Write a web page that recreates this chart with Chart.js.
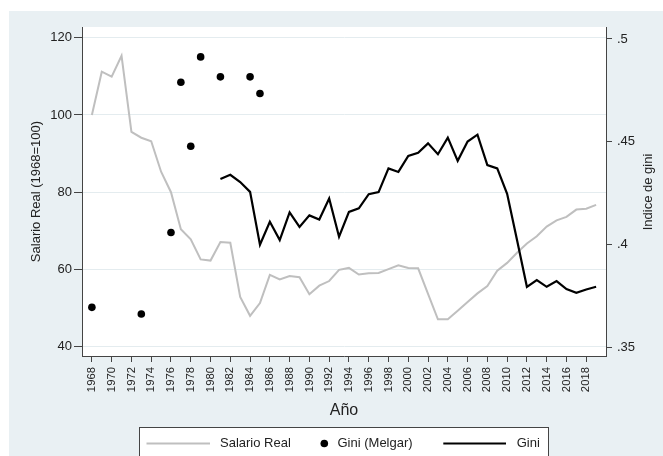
<!DOCTYPE html>
<html>
  <head>
    <meta charset="UTF-8" />
    <title>Salario real y Gini</title>
    <script src="https://cdn.jsdelivr.net/npm/chart.js"></script>
    <style>
      html,
      body {
        margin: 0;
        padding: 0;
        background: #fff;
        overflow: hidden;
      }
      canvas {
        display: block;
      }
    </style>
  </head>
  <body>
    <canvas id="giniChart" width="663" height="456"></canvas>
  </body>
  <script>
    // years for the salary series
    const salarioYears = [
      1968, 1969, 1970, 1971, 1972, 1973, 1974, 1975, 1976, 1977, 1978, 1979,
      1980, 1981, 1982, 1983, 1984, 1985, 1986, 1987, 1988, 1989, 1990, 1991,
      1992, 1993, 1994, 1995, 1996, 1997, 1998, 1999, 2000, 2001, 2002, 2003,
      2004, 2005, 2006, 2007, 2008, 2009, 2010, 2011, 2012, 2013, 2014, 2015,
      2016, 2017, 2018, 2019,
    ];
    const salarioReal = [
      100, 111.2, 109.9, 115.3, 95.6, 94.1, 93.2, 85.3, 80.0, 70.4, 67.8, 62.6,
      62.3, 67.1, 66.9, 52.9, 48.0, 51.3, 58.6, 57.4, 58.3, 58.0, 53.6, 55.8,
      57.0, 59.9, 60.4, 58.7, 59.0, 59.1, 60.1, 61.1, 60.4, 60.3, 53.7, 47.1,
      47.1, 49.3, 51.6, 53.8, 55.7, 59.7, 61.7, 64.3, 66.7, 68.6, 71.1, 72.7,
      73.6, 75.5, 75.7, 76.7,
    ];

    // Gini (Melgar) - sparse points
    const melgarYears = [1968, 1973, 1976, 1977, 1978, 1979, 1981, 1984, 1985];
    const giniMelgar = [0.3696, 0.3664, 0.406, 0.479, 0.4479, 0.4913, 0.4816, 0.4816, 0.4735];

    const giniYears = [
      1981, 1982, 1983, 1984, 1985, 1986, 1987, 1988, 1989, 1990, 1991, 1992,
      1993, 1994, 1995, 1996, 1997, 1998, 1999, 2000, 2001, 2002, 2003, 2004,
      2005, 2006, 2007, 2008, 2009, 2010, 2011, 2012, 2013, 2014, 2015, 2016,
      2017, 2018, 2019,
    ];
    const gini = [
      0.432, 0.434, 0.4305, 0.4257, 0.4, 0.4112, 0.4023, 0.4157, 0.4087, 0.4143,
      0.4123, 0.4225, 0.4039, 0.416, 0.4177, 0.4246, 0.4256, 0.4371, 0.4354,
      0.4432, 0.4447, 0.4493, 0.444, 0.4521, 0.4408, 0.4502, 0.4535, 0.4387,
      0.4371, 0.4248, 0.4023, 0.3796, 0.3829, 0.3796, 0.3824, 0.3785, 0.3767,
      0.3783, 0.3796,
    ];

    // tick labels
    const xTicks = [
      1968, 1970, 1972, 1974, 1976, 1978, 1980, 1982, 1984, 1986, 1988, 1990,
      1992, 1994, 1996, 1998, 2000, 2002, 2004, 2006, 2008, 2010, 2012, 2014,
      2016, 2018,
    ];
    const yTicks = [40, 60, 80, 100, 120];
    const y2Ticks = [0.35, 0.4, 0.45, 0.5];
    const y2Labels = [".35", ".4", ".45", ".5"];

    const xTitle = "Año";
    const yTitle = "Salario Real (1968=100)";
    const y2Title = "Indice de gini";

    const FONT = "'Liberation Sans', Arial, Helvetica, sans-serif";
    const TEXT = "#222";
    const AXIS = "#444";

    const toPoints = (xs, ys) => xs.map((x, i) => ({ x: x, y: ys[i] }));

    // Stata-like background: white margin, bluish-gray graph region, white plot
    const backgroundPlugin = {
      id: "background",
      beforeDraw(chart) {
        const { ctx, chartArea, width, height } = chart;
        ctx.save();
        ctx.fillStyle = "#ffffff";
        ctx.fillRect(0, 0, width, height);
        ctx.fillStyle = "#e9f0f3";
        ctx.fillRect(9, 11, width - 9, height - 11);
        ctx.fillStyle = "#ffffff";
        ctx.fillRect(
          chartArea.left,
          chartArea.top,
          chartArea.right - chartArea.left,
          chartArea.bottom - chartArea.top
        );
        ctx.restore();
      },
    };

    // right axis title (reads bottom to top) and the boxed legend
    const extrasPlugin = {
      id: "extras",
      afterDraw(chart) {
        const { ctx } = chart;
        const ds = chart.data.datasets;
        ctx.save();

        ctx.fillStyle = TEXT;
        ctx.font = "13px " + FONT;
        ctx.textAlign = "center";
        ctx.textBaseline = "middle";
        ctx.translate(648, 192);
        ctx.rotate(-Math.PI / 2);
        ctx.fillText(y2Title, 0, 0);
        ctx.setTransform(1, 0, 0, 1, 0, 0);

        // legend box
        ctx.fillStyle = "#ffffff";
        ctx.fillRect(139.5, 427.5, 409, 40);
        ctx.strokeStyle = AXIS;
        ctx.lineWidth = 1;
        ctx.strokeRect(139.5, 427.5, 409, 40);

        const ly = 443.5;
        ctx.font = "13px " + FONT;
        ctx.textAlign = "left";
        ctx.textBaseline = "middle";

        // Salario Real
        ctx.strokeStyle = ds[0].borderColor;
        ctx.lineWidth = ds[0].borderWidth;
        ctx.beginPath();
        ctx.moveTo(146.5, ly);
        ctx.lineTo(210, ly);
        ctx.stroke();
        ctx.fillStyle = TEXT;
        ctx.fillText(ds[0].label, 220, ly);

        // Gini (Melgar)
        ctx.fillStyle = ds[1].backgroundColor;
        ctx.beginPath();
        ctx.arc(324.3, ly, ds[1].pointRadius, 0, Math.PI * 2);
        ctx.fill();
        ctx.fillStyle = TEXT;
        ctx.fillText(ds[1].label, 337.5, ly);

        // Gini
        ctx.strokeStyle = ds[2].borderColor;
        ctx.lineWidth = ds[2].borderWidth;
        ctx.beginPath();
        ctx.moveTo(443.3, ly);
        ctx.lineTo(506, ly);
        ctx.stroke();
        ctx.fillStyle = TEXT;
        ctx.fillText(ds[2].label, 516.7, ly);

        ctx.restore();
      },
    };

    const ctx = document.getElementById("giniChart").getContext("2d");
    new Chart(ctx, {
      type: "line",
      data: {
        datasets: [
          {
            label: "Salario Real",
            data: toPoints(salarioYears, salarioReal),
            yAxisID: "y",
            borderColor: "#bfbfbf",
            borderWidth: 2,
            pointRadius: 0,
            tension: 0,
            order: 3,
          },
          {
            label: "Gini (Melgar)",
            data: toPoints(melgarYears, giniMelgar),
            yAxisID: "y2",
            showLine: false,
            backgroundColor: "#000000",
            borderColor: "#000000",
            borderWidth: 0,
            pointRadius: 3.8,
            order: 2,
          },
          {
            label: "Gini",
            data: toPoints(giniYears, gini),
            yAxisID: "y2",
            borderColor: "#000000",
            borderWidth: 2.2,
            pointRadius: 0,
            tension: 0,
            order: 1,
          },
        ],
      },
      options: {
        responsive: false,
        animation: false,
        devicePixelRatio: 1,
        layout: { padding: { top: 27, left: 0, right: 0, bottom: 0 } },
        plugins: {
          legend: { display: false },
          tooltip: { enabled: false },
        },
        scales: {
          x: {
            type: "linear",
            min: 1967,
            max: 2020,
            afterBuildTicks: (scale) => {
              scale.ticks = xTicks.map((v) => ({ value: v }));
            },
            afterFit: (scale) => {
              scale.height = 100;
            },
            ticks: {
              autoSkip: false,
              maxRotation: 90,
              minRotation: 90,
              padding: 5,
              color: TEXT,
              font: { family: FONT, size: 11.3 },
              callback: (v) => String(v),
            },
            grid: {
              drawOnChartArea: false,
              drawTicks: true,
              tickLength: 6,
              tickColor: AXIS,
            },
            border: { display: true, color: AXIS, width: 1 },
            title: {
              display: true,
              text: xTitle,
              color: TEXT,
              font: { family: FONT, size: 16 },
              padding: { top: 0, bottom: 35.7 },
            },
          },
          y: {
            position: "left",
            min: 37.59,
            max: 122.77,
            afterBuildTicks: (scale) => {
              scale.ticks = yTicks.map((v) => ({ value: v }));
            },
            afterFit: (scale) => {
              scale.width = 82;
            },
            ticks: {
              padding: 2,
              color: TEXT,
              font: { family: FONT, size: 13 },
              callback: (v) => String(v),
            },
            grid: {
              color: "#e4ecef",
              lineWidth: 1,
              drawTicks: true,
              tickLength: 8,
              tickColor: AXIS,
            },
            border: { display: true, color: AXIS, width: 1 },
            title: {
              display: true,
              text: yTitle,
              color: TEXT,
              font: { family: FONT, size: 13 },
              padding: { top: 28.9, bottom: 0 },
            },
          },
          y2: {
            position: "right",
            min: 0.34597,
            max: 0.50583,
            afterBuildTicks: (scale) => {
              scale.ticks = y2Ticks.map((v) => ({ value: v }));
            },
            afterFit: (scale) => {
              scale.width = 57;
            },
            ticks: {
              padding: 5,
              color: TEXT,
              font: { family: FONT, size: 13 },
              callback: (v) => y2Labels[y2Ticks.indexOf(v)],
            },
            grid: {
              drawOnChartArea: false,
              drawTicks: true,
              tickLength: 6,
              tickColor: AXIS,
            },
            border: { display: true, color: AXIS, width: 1 },
          },
        },
      },
      plugins: [backgroundPlugin, extrasPlugin],
    });
  </script>
</html>
